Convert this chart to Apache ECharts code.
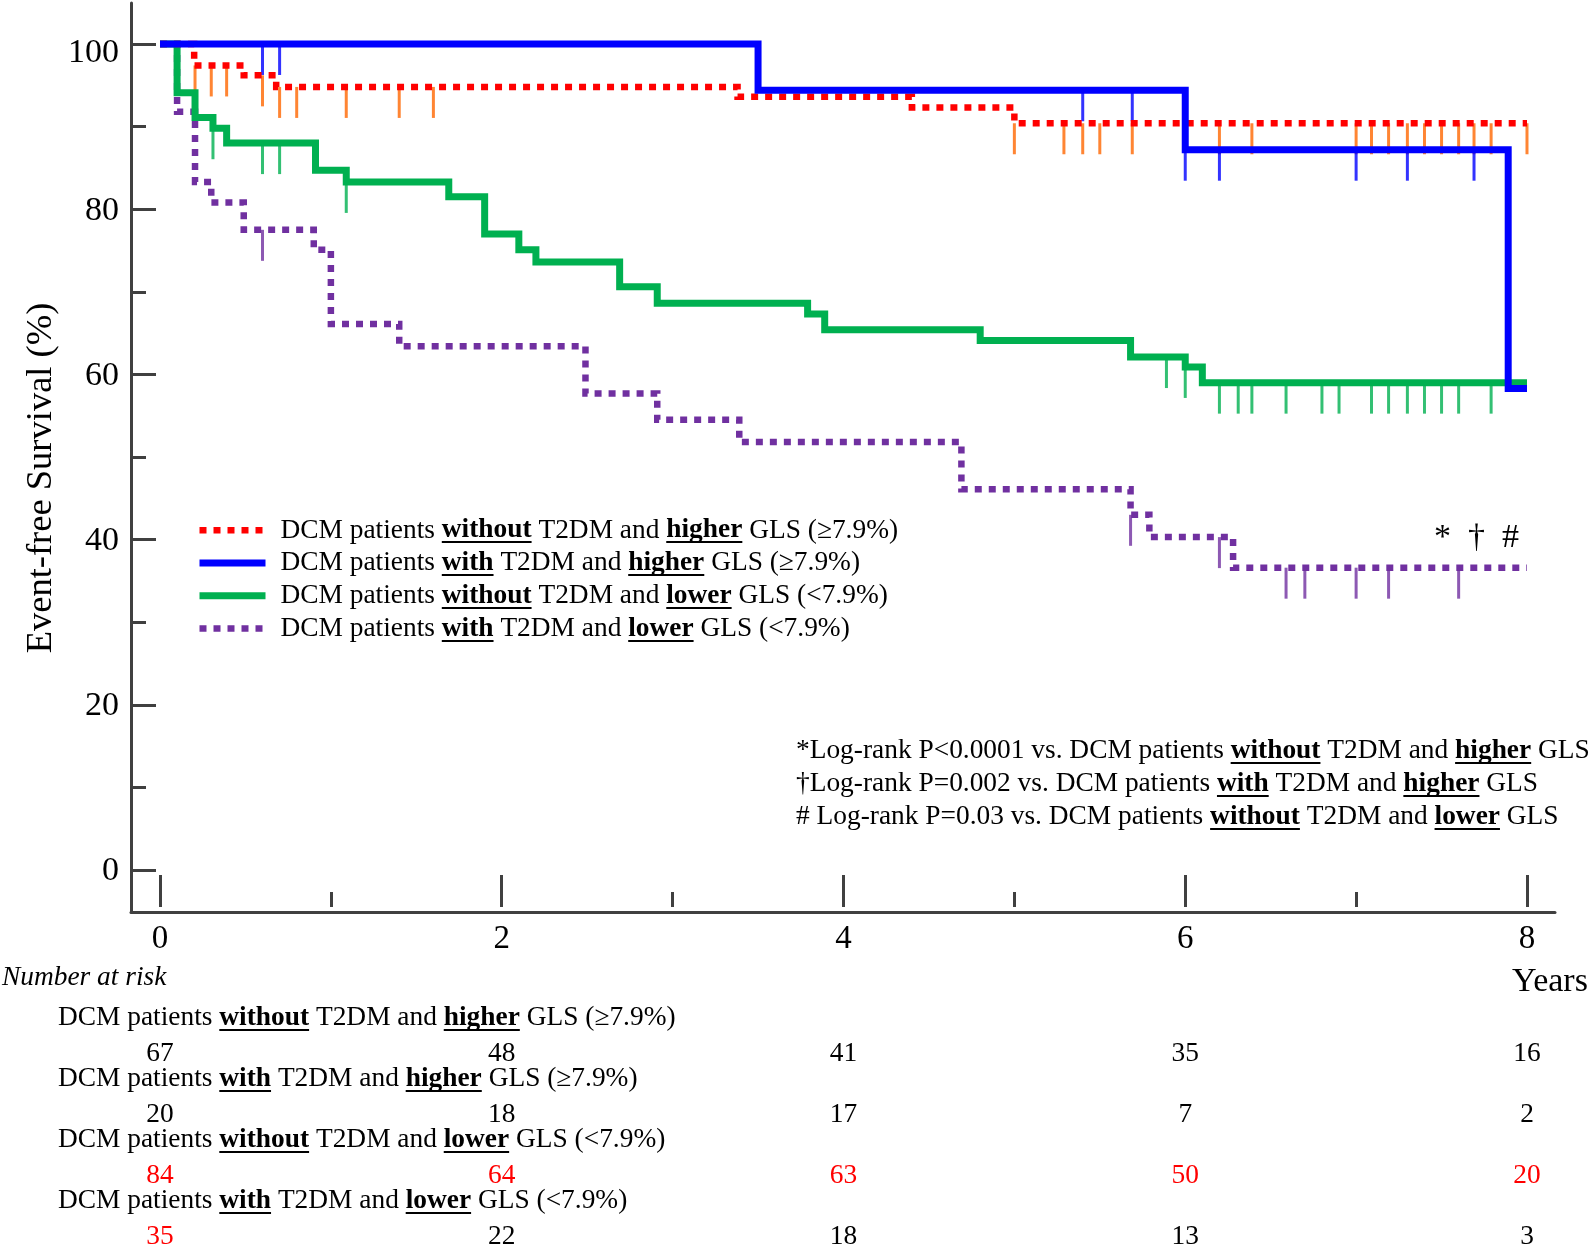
<!DOCTYPE html>
<html><head><meta charset="utf-8">
<script src="https://cdn.jsdelivr.net/npm/echarts@6/dist/echarts.min.js"></script>
<style>html,body{margin:0;padding:0;background:#fff}#c{width:1594px;height:1253px}</style>
</head><body><div id="c"></div>
<script>
const FONT = "'Liberation Serif','Times New Roman',serif";

// ---- groups ----
const groupWith = ['without', 'with', 'without', 'with'];
const groupGls = ['higher', 'higher', 'lower', 'lower'];
const groupRange = ['(≥7.9%)', '(≥7.9%)', '(<7.9%)', '(<7.9%)'];
const lineColors = ['#FF0000', '#0000FF', '#00B050', '#7030A0'];
const censorColors = ['#FF6600', '#0000FF', '#00B050', '#7030A0'];

// ---- Kaplan-Meier curves (years, survival %) ----
const redTimes = [0, 0.20, 0.49, 0.68, 3.38, 4.40, 5.00, 8.00];
const redSurv = [100, 97.4, 96.2, 94.8, 93.6, 92.3, 90.4, 90.4];
const blueTimes = [0, 3.50, 6.00, 7.89, 8.00];
const blueSurv = [100, 94.4, 87.2, 58.3, 58.3];
const greenTimes = [0, 0.10, 0.205, 0.31, 0.39, 0.91, 1.09, 1.69, 1.90, 2.10, 2.20, 2.69, 2.91, 3.79, 3.89, 4.80, 5.68, 6.00, 6.10, 8.00];
const greenSurv = [100, 94.1, 91.1, 89.8, 88.0, 84.7, 83.3, 81.5, 77.0, 75.1, 73.6, 70.6, 68.6, 67.3, 65.4, 64.1, 62.1, 60.9, 59.0, 59.0];
const purpleTimes = [0, 0.10, 0.205, 0.30, 0.49, 0.90, 1.00, 1.40, 2.49, 2.91, 3.39, 4.69, 5.68, 5.79, 6.28, 8.00];
const purpleSurv = [100, 91.8, 83.3, 80.8, 77.5, 75.1, 66.1, 63.4, 57.7, 54.5, 51.8, 46.1, 43.0, 40.3, 36.6, 36.6];

// ---- censor marks ----
const redCensorT = [0.205, 0.30, 0.39, 0.60, 0.70, 0.80, 1.09, 1.40, 1.60, 5.00, 5.29, 5.40, 5.50, 5.69, 6.20, 6.39, 7.00, 7.09, 7.19, 7.30, 7.40, 7.50, 7.60, 7.69, 7.79, 8.00];
const redCensorS = [97.4, 97.4, 97.4, 96.2, 94.8, 94.8, 94.8, 94.8, 94.8, 90.4, 90.4, 90.4, 90.4, 90.4, 90.4, 90.4, 90.4, 90.4, 90.4, 90.4, 90.4, 90.4, 90.4, 90.4, 90.4, 90.4];
const blueCensorT = [0.60, 0.70, 5.40, 5.69, 6.00, 6.20, 7.00, 7.30, 7.69];
const blueCensorS = [100, 100, 94.4, 94.4, 87.2, 87.2, 87.2, 87.2, 87.2];
const greenCensorT = [0.31, 0.60, 0.70, 1.09, 5.89, 6.00, 6.20, 6.31, 6.39, 6.59, 6.80, 6.90, 7.09, 7.19, 7.30, 7.40, 7.50, 7.60, 7.79];
const greenCensorS = [89.8, 88.0, 88.0, 83.3, 62.1, 60.9, 59.0, 59.0, 59.0, 59.0, 59.0, 59.0, 59.0, 59.0, 59.0, 59.0, 59.0, 59.0, 59.0];
const purpleCensorT = [0.60, 5.68, 6.20, 6.59, 6.70, 7.00, 7.19, 7.60];
const purpleCensorS = [77.5, 43.0, 40.3, 36.6, 36.6, 36.6, 36.6, 36.6];

// ---- axes ----
const yTickLabels = [0, 20, 40, 60, 80, 100];
const yMinorTicks = [10, 30, 50, 70, 90];
const xTickLabels = [0, 2, 4, 6, 8];
const xMinorTicks = [1, 3, 5, 7];

// ---- number at risk ----
const riskTimes = [0, 2, 4, 6, 8];
const risk1 = [67, 48, 41, 35, 16];
const risk2 = [20, 18, 17, 7, 2];
const risk3 = [84, 64, 63, 50, 20];
const risk4 = [35, 22, 18, 13, 3];
const riskRed1 = [0, 0, 0, 0, 0];
const riskRed2 = [0, 0, 0, 0, 0];
const riskRed3 = [1, 1, 1, 1, 1];
const riskRed4 = [1, 0, 0, 0, 0];

// ---- annotations ----
const pLines = [
  ['*Log-rank P<0.0001 vs. DCM patients ', 'without', ' T2DM and ', 'higher', ' GLS'],
  ['†Log-rank P=0.002 vs. DCM patients ', 'with', ' T2DM and ', 'higher', ' GLS'],
  ['# Log-rank P=0.03 vs. DCM patients ', 'without', ' T2DM and ', 'lower', ' GLS']
];
const sigMarks = '*  †  #';

// ================= build =================
const zip = (a, b) => a.map((v, i) => [v, b[i]]);
const names = groupWith.map((w, i) => `DCM patients ${w} T2DM and ${groupGls[i]} GLS ${groupRange[i]}`);
const richName = i => `DCM patients {u|${groupWith[i]}} T2DM and {u|${groupGls[i]}} GLS ${groupRange[i]}`;

function ulGrad() {
  return new echarts.graphic.LinearGradient(0, 0, 0, 1, [
    {offset: 0, color: 'rgba(0,0,0,0)'},
    {offset: 0.87, color: 'rgba(0,0,0,0)'},
    {offset: 0.87, color: '#000'},
    {offset: 0.935, color: '#000'},
    {offset: 0.935, color: 'rgba(0,0,0,0)'},
    {offset: 1, color: 'rgba(0,0,0,0)'}
  ]);
}
const BODY = 27.4;
const richDef = {
  sp: {width: 10, fontSize: BODY, fontFamily: FONT},
  u: {fontWeight: 'bold', fontSize: BODY, fontFamily: FONT, color: '#000', height: 30, backgroundColor: ulGrad()}
};

const XMIN = -0.1697, XMAX = 8.1639, YMIN = -5.085, YMAX = 104.96;
const axisCol = '#404040';

const curves = [
  {t: redTimes, s: redSurv, type: [7, 7], width: 6.5},
  {t: blueTimes, s: blueSurv, type: 'solid', width: 7},
  {t: greenTimes, s: greenSurv, type: 'solid', width: 7},
  {t: purpleTimes, s: purpleSurv, type: [7, 7], width: 6.5}
];
const censors = [
  [redCensorT, redCensorS], [blueCensorT, blueCensorS],
  [greenCensorT, greenCensorS], [purpleCensorT, purpleCensorS]
];

const series = [];
censors.forEach((c, i) => {
  series.push({
    type: 'scatter', name: 'censor' + i, xAxisIndex: 0, yAxisIndex: 0,
    data: zip(c[0], c[1]), symbol: 'rect', symbolSize: [3, 31], symbolOffset: [0, 15.5],
    itemStyle: {color: censorColors[i]}, silent: true, z: 2
  });
});
[3, 2, 0, 1].forEach(i => {
  const c = curves[i];
  series.push({
    type: 'line', name: names[i], xAxisIndex: 0, yAxisIndex: 0, step: 'end', symbol: 'none',
    data: zip(c.t, c.s), color: lineColors[i],
    lineStyle: {color: lineColors[i], width: c.width, type: c.type, cap: 'butt', join: 'miter'},
    z: 3, silent: true
  });
});

const riskRows = [risk1, risk2, risk3, risk4];
const riskReds = [riskRed1, riskRed2, riskRed3, riskRed4];
const riskData = [];
riskRows.forEach((row, r) => row.forEach((n, c) => {
  riskData.push({value: [riskTimes[c], r, n], label: {color: riskReds[r][c] ? '#FF0000' : '#000'}});
}));
series.push({
  type: 'scatter', xAxisIndex: 3, yAxisIndex: 2, data: riskData, symbolSize: 1,
  itemStyle: {color: 'rgba(0,0,0,0)'}, silent: true,
  label: {show: true, position: 'inside', formatter: p => String(p.value[2]), fontSize: BODY, fontFamily: FONT,
    textBorderWidth: 0, opacity: 1}
});

const graphic = [];
graphic.push({type: 'text', x: 41, y: 478, rotation: Math.PI / 2,
  style: {text: 'Event-free Survival (%)', font: `36.5px ${FONT}`, fill: '#000', align: 'center', verticalAlign: 'middle'}});
graphic.push({type: 'text', x: 1512, y: 982,
  style: {text: 'Years', font: `34px ${FONT}`, fill: '#000', align: 'left', verticalAlign: 'middle'}});
graphic.push({type: 'text', x: 2, y: 978,
  style: {text: 'Number at risk', font: `italic ${BODY}px ${FONT}`, fill: '#000', align: 'left', verticalAlign: 'middle'}});
names.forEach((n, i) => graphic.push({type: 'text', x: 58, y: 1018 + 61 * i,
  style: {text: richName(i), fontSize: BODY, fontFamily: FONT, fill: '#000', align: 'left', verticalAlign: 'middle', rich: richDef}}));
pLines.forEach((p, i) => graphic.push({type: 'text', x: 796, y: 751 + 33 * i,
  style: {text: `${p[0]}{u|${p[1]}}${p[2]}{u|${p[3]}}${p[4]}`, fontSize: BODY, fontFamily: FONT, fill: '#000', align: 'left', verticalAlign: 'middle', rich: richDef}}));
graphic.push({type: 'text', x: 1434, y: 538,
  style: {text: sigMarks, font: `34px ${FONT}`, fill: '#000', align: 'left', verticalAlign: 'middle'}});

const hidden = {show: false};
const option = {
  animation: false,
  backgroundColor: '#fff',
  grid: [
    {left: 131, right: 39, top: 3, bottom: 341},
    {left: 131, right: 39, top: 1054, height: 183}
  ],
  legend: {
    data: names, orient: 'vertical', left: 196, top: 514, padding: 0,
    itemWidth: 66, itemHeight: 14, itemGap: 0,
    selectedMode: false,
    itemStyle: {color: 'rgba(0,0,0,0)', borderWidth: 0, opacity: 0},
    lineStyle: {width: 'inherit', type: 'inherit', cap: 'butt'},
    formatter: name => '{sp| }' + richName(names.indexOf(name)),
    textStyle: {fontSize: BODY, fontFamily: FONT, color: '#000', lineHeight: 32.7, rich: richDef}
  },
  xAxis: [
    {type: 'value', gridIndex: 0, position: 'bottom', min: XMIN, max: XMAX,
      axisLine: {show: true, onZero: false, lineStyle: {color: axisCol, width: 3}},
      axisTick: {show: false}, splitLine: hidden,
      axisLabel: {show: true, customValues: xTickLabels, margin: 11, fontSize: 33, fontFamily: FONT, color: '#000'}},
    {type: 'value', gridIndex: 0, position: 'bottom', offset: -5, min: XMIN, max: XMAX,
      axisLine: {show: false, onZero: false}, axisLabel: hidden, splitLine: hidden,
      axisTick: {show: true, inside: true, length: 32, customValues: xTickLabels, lineStyle: {color: axisCol, width: 3}}},
    {type: 'value', gridIndex: 0, position: 'bottom', offset: -5, min: XMIN, max: XMAX,
      axisLine: {show: false, onZero: false}, axisLabel: hidden, splitLine: hidden,
      axisTick: {show: true, inside: true, length: 15, customValues: xMinorTicks, lineStyle: {color: axisCol, width: 3}}},
    {type: 'value', gridIndex: 1, min: XMIN, max: XMAX, show: false}
  ],
  yAxis: [
    {type: 'value', gridIndex: 0, position: 'left', min: YMIN, max: YMAX,
      axisLine: {show: true, onZero: false, lineStyle: {color: axisCol, width: 3}},
      axisTick: {show: true, inside: true, length: 25, customValues: yTickLabels, lineStyle: {color: axisCol, width: 3}},
      splitLine: hidden,
      axisLabel: {show: true, customValues: yTickLabels, margin: 12, fontSize: 34, fontFamily: FONT, color: '#000',
        formatter: v => (v === 100 ? '{hi|' + v + '}' : '{n|' + v + '}'),
        rich: {
          hi: {fontSize: 34, fontFamily: FONT, color: '#000', padding: [18, 0, 0, 0]},
          n: {fontSize: 34, fontFamily: FONT, color: '#000', padding: [3, 0, 0, 0]}
        }}},
    {type: 'value', gridIndex: 0, position: 'left', min: YMIN, max: YMAX,
      axisLine: {show: false, onZero: false}, axisLabel: hidden, splitLine: hidden,
      axisTick: {show: true, inside: true, length: 15, customValues: yMinorTicks, lineStyle: {color: axisCol, width: 3}}},
    {type: 'value', gridIndex: 1, min: 0, max: 3, inverse: true, show: false}
  ],
  series: series,
  graphic: graphic
};
const chart = echarts.init(document.getElementById('c'), null, {renderer: 'canvas'});
chart.setOption(option);
</script>
</body></html>
